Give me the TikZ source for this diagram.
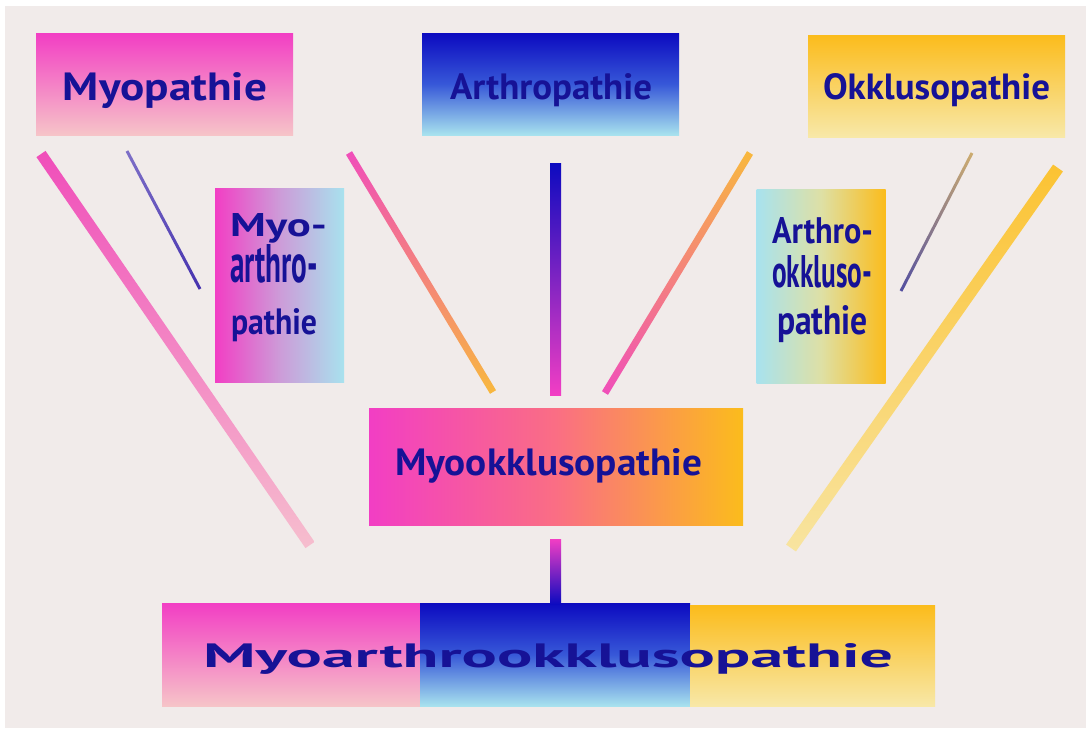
\documentclass[tikz,border=0pt]{standalone}
\usepackage{fontspec}
\setmainfont{PT Sans}
\usetikzlibrary{calc}
\definecolor{bg}{RGB}{241,235,234}
\definecolor{txt}{RGB}{22,18,150}
\definecolor{mag}{RGB}{242,62,196}
\definecolor{pinkpale}{RGB}{246,196,200}
\definecolor{dblue}{RGB}{12,10,192}
\definecolor{mblue}{RGB}{55,88,216}
\definecolor{lcyan}{RGB}{168,226,238}
\definecolor{orng}{RGB}{251,188,28}
\definecolor{pyel}{RGB}{248,232,168}
\definecolor{salmon}{RGB}{250,110,132}
\definecolor{lav}{RGB}{205,155,216}
\definecolor{pgreen}{RGB}{222,224,165}
\definecolor{barpink}{RGB}{240,78,186}
\definecolor{barpale}{RGB}{246,190,206}
\definecolor{barorng}{RGB}{248,184,62}
\definecolor{baryel}{RGB}{248,228,160}
\definecolor{thinblue}{RGB}{70,50,175}
\definecolor{thintan}{RGB}{205,172,112}
\definecolor{thingrey}{RGB}{82,78,160}
\newcommand{\gbar}[4]{%
  \shade[#4] ($(#1)!#3!90:(#2)$) -- ($(#1)!#3!-90:(#2)$) --
             ($(#2)!#3!90:(#1)$) -- ($(#2)!#3!-90:(#1)$) -- cycle;}
\tikzset{
  box/.style={inner sep=0pt, outer sep=0pt, draw=none},
  lbl/.style={inner sep=0pt, outer sep=0pt, anchor=base west, text=txt, font=\bfseries},
}
\begin{document}
\begin{tikzpicture}[x=1pt,y=-1pt]
\useasboundingbox (0,0) rectangle (1090,729);
\fill[white] (0,0) rectangle (1090,729);
\fill[bg] (5,6) rectangle (1086,728);

% ---- boxes ----
\node[box, minimum width=257pt, minimum height=102pt, top color=mag, bottom color=pinkpale] (myo) at (164.5,84) {};
\node[box, minimum width=257pt, minimum height=102pt, top color=dblue, bottom color=lcyan, middle color=mblue] (arth) at (550.5,84) {};
\node[box, minimum width=257pt, minimum height=102pt, top color=orng, bottom color=pyel] (okk) at (936.5,86) {};
\node[box, minimum width=129pt, minimum height=194pt, left color=mag, right color=lcyan, middle color=lav] (myoarth) at (279.5,285) {};
\node[box, minimum width=129pt, minimum height=194pt, left color=lcyan, right color=orng, middle color=pgreen] (arthokk) at (821,286) {};
\node[box, minimum width=374pt, minimum height=117pt, left color=mag, right color=orng, middle color=salmon] (myookk) at (556,467) {};
\node[box, minimum width=258pt, minimum height=103pt, top color=mag, bottom color=pinkpale] (botA) at (291,654.5) {};
\node[box, minimum width=270pt, minimum height=103pt, top color=dblue, bottom color=lcyan, middle color=mblue] (botB) at (555,654.5) {};
\node[box, minimum width=245pt, minimum height=101pt, top color=orng, bottom color=pyel] (botC) at (812.5,656) {};

% ---- labels ----
\node[lbl] (myoL) at (63,100) {\resizebox{204pt}{28pt}{Myopathie}};
\node[lbl] (arthL) at (450,99) {\resizebox{202pt}{26pt}{Arthropathie}};
\node[lbl] (okkL) at (823,99) {\resizebox{227pt}{26pt}{Okklusopathie}};
\node[lbl] (maL1) at (230,236) {\resizebox{97pt}{23pt}{Myo-}};
\node[lbl] (maL2) at (230,282) {\resizebox{88pt}{38pt}{arthro-}};
\node[lbl] (maL3) at (231,334) {\resizebox{86pt}{26pt}{pathie}};
\node[lbl] (aoL1) at (772,243) {\resizebox{101pt}{26pt}{Arthro-}};
\node[lbl] (aoL2) at (772,287) {\resizebox{100pt}{32pt}{okkluso-}};
\node[lbl] (aoL3) at (777,334) {\resizebox{91pt}{29pt}{pathie}};
\node[lbl] (moL) at (395,475) {\resizebox{307pt}{27pt}{Myookklusopathie}};
\node[lbl] (maoL) at (203,667) {\resizebox{690pt}{24pt}{Myoarthrookklusopathie}};

% ---- connector bars ----
\coordinate (b1a) at (41,154);   \coordinate (b1b) at (310,545);
\coordinate (b2a) at (127,151);  \coordinate (b2b) at (200,289);
\coordinate (b3a) at (349,153);  \coordinate (b3b) at (493,392);
\coordinate (b4a) at (555.5,163);\coordinate (b4b) at (555.5,395);
\coordinate (b5a) at (750,153);  \coordinate (b5b) at (605,393);
\coordinate (b6a) at (972,153);  \coordinate (b6b) at (901,291);
\coordinate (b7a) at (1058,168); \coordinate (b7b) at (791,548);
\coordinate (b8a) at (555.5,539);\coordinate (b8b) at (555.5,604);

\gbar{b1a}{b1b}{5.5pt}{top color=barpink, bottom color=barpale}
\gbar{b2a}{b2b}{1.5pt}{top color=thinblue!70!white, bottom color=thinblue}
\gbar{b3a}{b3b}{3.5pt}{top color=barpink, bottom color=barorng}
\gbar{b4a}{b4b}{5.5pt}{top color=dblue, bottom color=mag}
\gbar{b5a}{b5b}{3.5pt}{top color=barorng, bottom color=barpink}
\gbar{b6a}{b6b}{1.5pt}{top color=thintan, bottom color=thingrey}
\gbar{b7a}{b7b}{6pt}{top color=orng!90!white, bottom color=baryel}
\gbar{b8a}{b8b}{5.5pt}{top color=mag, bottom color=dblue}
\end{tikzpicture}
\end{document}
